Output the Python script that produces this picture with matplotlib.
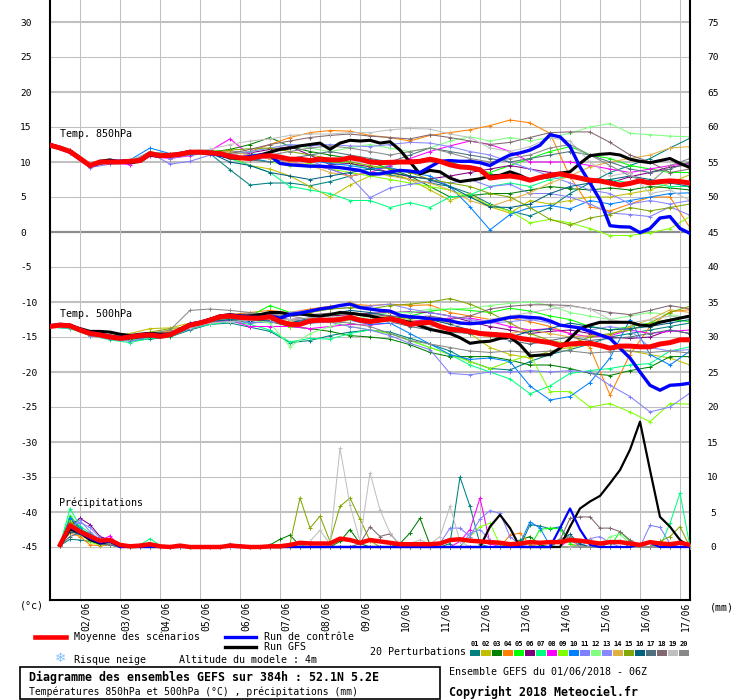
import numpy as np
import matplotlib
matplotlib.use("Agg")
import matplotlib.pyplot as plt
from matplotlib.lines import Line2D
from matplotlib.patches import Rectangle
import matplotlib.transforms as mtransforms

plt.rcParams['font.family'] = ['DejaVu Sans Mono', 'DejaVu Sans']
plt.rcParams['axes.unicode_minus'] = False

# echeances (heures depuis 01/06 06Z)
hours = np.arange(0, 385, 6)
hours12 = np.arange(0, 385, 12)
hours_rain = np.arange(6, 385, 6)

date_hours = np.arange(18, 384, 24)
dates = ['02/06', '03/06', '04/06', '05/06', '06/06', '07/06', '08/06', '09/06',
         '10/06', '11/06', '12/06', '13/06', '14/06', '15/06', '16/06', '17/06']

member_colors = ['#008080', '#c0c000', '#008000', '#ff8000', '#00ff00', '#800080',
                 '#00ff80', '#ff00ff', '#80ff00', '#0080ff', '#8080ff', '#80ff80',
                 '#8888ff', '#e0b040', '#80a800', '#006080', '#507080', '#806870',
                 '#c0c0c0', '#888888']

# ---- temperature 850 hPa ----
t850_mean = [12.4, 12.0, 11.5, 10.5, 9.5, 10.0, 10.0, 10.0, 10.1, 10.2,
             11.2, 10.9, 10.95, 11.1, 11.4, 11.4, 11.3, 11.2, 10.8, 10.6,
             10.5, 10.8, 10.9, 10.7, 10.4, 10.4, 10.2, 10.4, 10.3, 10.3,
             10.6, 10.4, 10.0, 9.9, 9.95, 10.0, 10.0, 10.1, 10.4, 10.1,
             9.6, 9.3, 9.2, 8.9, 7.7, 7.9, 8.0, 7.8, 7.4, 7.8,
             8.1, 8.3, 8.0, 7.7, 7.4, 7.3, 7.0, 6.7, 6.95, 7.3,
             7.0, 7.2, 7.3, 7.2, 7.0]
t850_ctrl = [12.5, 12.0, 11.4, 10.4, 9.4, 9.9, 10.1, 10.1, 10.2, 10.1,
             11.1, 10.8, 10.9, 11.2, 11.5, 11.4, 11.2, 11.0, 10.7, 10.6,
             10.8, 11.0, 10.9, 9.8, 9.6, 9.5, 9.4, 9.4, 9.3, 9.2,
             9.0, 8.8, 8.3, 8.3, 8.6, 8.8, 8.7, 8.5, 9.3, 10.1,
             10.2, 10.1, 10.1, 9.9, 9.5, 10.3, 11.0, 11.3, 11.7, 12.4,
             13.9, 13.6, 12.2, 9.3, 7.0, 4.6, 0.9, 0.75, 0.7, -0.1,
             0.5, 2.0, 2.2, 0.5, -0.2]
t850_gfs = [12.5, 12.1, 11.6, 10.6, 9.5, 10.1, 10.3, 10.0, 9.9, 10.1,
            11.0, 10.8, 10.9, 11.1, 11.5, 11.5, 11.3, 11.0, 10.6, 10.5,
            10.6, 11.0, 11.4, 11.8, 12.0, 12.3, 12.5, 12.7, 11.8, 12.7,
            13.1, 13.0, 13.1, 12.7, 12.9, 11.7, 10.0, 8.3, 8.8, 8.6,
            7.7, 7.2, 7.4, 7.6, 8.0, 8.1, 8.6, 8.1, 7.4, 7.7,
            7.9, 8.4, 8.6, 9.8, 10.9, 11.1, 11.2, 11.0, 10.4, 10.1,
            9.9, 10.2, 10.5, 9.8, 9.2]

# perturbations, pas de 12h
t850_p01 = [12.4, 11.5, 9.4, 10.0, 10.1, 11.0, 10.6, 11.0, 11.2, 8.9, 6.7, 7.0, 7.0, 6.6, 7.2, 8.0, 8.5,
            8.2, 7.5, 7.0, 6.5, 5.5, 4.0, 3.0, 2.3, 3.5, 5.5, 7.0, 8.5, 9.5, 10.5, 12.0, 13.4]
t850_p02 = [12.4, 11.5, 9.5, 10.1, 10.0, 11.0, 11.0, 11.3, 11.3, 10.8, 9.5, 9.0, 8.0, 6.5, 5.0, 6.7, 8.0,
            8.5, 7.5, 6.0, 4.5, 5.5, 3.6, 2.7, 4.5, 4.0, 4.5, 5.0, 5.0, 5.5, 6.0, 7.0, 8.2]
t850_p03 = [12.5, 11.6, 9.6, 10.1, 10.2, 11.3, 11.0, 11.3, 11.4, 11.8, 12.5, 13.5, 12.2, 11.5, 11.0, 10.5, 10.0,
            9.0, 8.0, 6.5, 5.0, 5.2, 5.5, 5.5, 6.0, 6.5, 6.2, 6.0, 6.3, 6.0, 6.5, 6.3, 6.0]
t850_p04 = [12.4, 11.5, 9.5, 10.1, 10.2, 11.1, 11.0, 11.5, 11.5, 11.0, 11.5, 12.5, 13.5, 14.2, 14.5, 14.4, 13.8,
            13.5, 13.0, 13.8, 14.2, 14.6, 15.2, 16.0, 15.6, 14.1, 7.9, 3.6, 3.0, 4.0, 5.0, 5.0, 0.6]
t850_p05 = [12.3, 11.4, 9.4, 10.0, 10.2, 11.2, 11.0, 11.4, 11.6, 11.5, 11.2, 10.8, 10.5, 10.2, 10.0, 9.8, 9.0,
            9.5, 10.2, 10.5, 10.0, 9.0, 8.5, 9.5, 10.5, 11.5, 12.2, 11.0, 10.5, 9.5, 9.0, 8.5, 8.5]
t850_p06 = [12.6, 11.7, 9.6, 10.0, 10.0, 11.2, 11.0, 11.3, 11.5, 11.5, 11.3, 11.8, 12.2, 11.0, 9.6, 9.8, 9.3,
            8.5, 7.9, 7.6, 8.0, 8.5, 9.0, 9.5, 9.0, 8.5, 8.0, 7.5, 7.0, 7.9, 8.5, 9.3, 9.6]
t850_p07 = [12.3, 11.4, 9.4, 10.0, 10.1, 11.0, 10.8, 11.0, 11.2, 10.5, 9.5, 8.5, 6.5, 6.0, 5.5, 4.5, 4.5,
            3.5, 4.2, 3.5, 5.0, 5.3, 6.5, 7.0, 6.5, 7.5, 8.0, 7.0, 7.5, 7.0, 7.0, 6.5, 6.5]
t850_p08 = [12.3, 11.5, 9.3, 10.0, 9.6, 10.8, 10.5, 10.9, 11.6, 13.3, 11.0, 10.5, 10.0, 9.5, 9.0, 8.0, 8.5,
            9.5, 10.5, 11.5, 12.3, 13.0, 12.5, 11.5, 10.0, 10.0, 10.0, 9.5, 9.0, 8.5, 9.0, 9.5, 9.8]
t850_p09 = [12.5, 11.6, 9.5, 10.1, 10.0, 11.5, 11.0, 11.3, 11.6, 11.0, 10.5, 10.0, 9.5, 9.8, 9.0, 8.5, 8.0,
            7.5, 7.0, 6.5, 6.0, 5.0, 3.8, 3.0, 1.3, 1.8, 1.3, 0.5, -0.5, -0.5, -0.1, 0.5, 2.2]
t850_p10 = [12.3, 11.4, 9.6, 10.2, 10.3, 12.0, 11.2, 11.0, 11.4, 11.0, 10.6, 10.0, 10.5, 10.2, 9.8, 9.5, 9.0,
            9.2, 8.5, 8.0, 6.5, 3.6, 0.3, 2.5, 3.5, 3.8, 3.3, 4.5, 4.0, 4.5, 5.0, 5.5, 5.6]
t850_p11 = [12.2, 11.3, 9.2, 9.7, 9.8, 11.3, 9.7, 10.1, 11.0, 11.6, 11.0, 10.5, 10.5, 10.2, 9.0, 7.9, 4.9,
            6.3, 6.8, 7.2, 7.0, 7.5, 6.5, 6.8, 5.5, 5.5, 5.0, 4.0, 2.7, 2.5, 2.2, 3.6, 2.4]
t850_p12 = [12.4, 11.5, 9.5, 10.1, 10.2, 11.1, 11.0, 11.4, 11.5, 11.3, 11.5, 12.0, 12.5, 12.0, 11.5, 12.0, 12.5,
            12.0, 11.5, 12.0, 13.0, 13.6, 13.0, 13.5, 13.0, 13.5, 14.1, 15.0, 15.5, 14.1, 13.9, 13.7, 13.6]
t850_p13 = [12.2, 11.3, 9.3, 10.0, 10.0, 11.5, 10.5, 11.0, 11.5, 11.0, 11.5, 12.0, 12.5, 12.3, 12.5, 12.3, 12.2,
            12.5, 12.8, 12.7, 12.2, 11.5, 11.0, 10.0, 9.0, 8.0, 7.0, 6.0, 5.5, 4.0, 4.5, 4.0, 4.5]
t850_p14 = [12.5, 11.6, 9.5, 10.1, 10.2, 11.0, 11.0, 11.2, 11.4, 11.5, 11.0, 10.5, 10.0, 9.5, 8.5, 8.0, 8.5,
            8.0, 7.5, 7.0, 6.0, 4.5, 3.6, 4.6, 5.6, 7.0, 8.0, 9.3, 10.0, 10.5, 11.0, 12.0, 12.2]
t850_p15 = [12.4, 11.5, 9.4, 10.0, 10.1, 11.2, 10.9, 11.2, 11.4, 11.7, 11.9, 12.0, 11.5, 11.0, 10.5, 10.0, 9.5,
            9.0, 8.5, 7.5, 7.0, 6.5, 5.5, 5.0, 3.5, 1.8, 1.0, 2.0, 2.5, 3.5, 3.0, 3.5, 4.0]
t850_p16 = [12.3, 11.4, 9.4, 10.1, 10.0, 11.0, 10.8, 11.2, 11.3, 10.0, 9.5, 8.5, 8.0, 7.5, 8.0, 8.5, 9.0,
            8.5, 8.0, 7.5, 6.5, 5.0, 3.6, 3.5, 4.0, 5.5, 6.5, 7.0, 7.5, 8.0, 7.5, 7.0, 6.5]
t850_p17 = [12.5, 11.6, 9.6, 10.2, 10.1, 11.4, 11.2, 11.6, 11.7, 10.8, 10.3, 10.0, 10.5, 11.0, 11.5, 11.0, 10.5,
            10.0, 11.0, 12.0, 11.5, 11.0, 10.5, 10.0, 10.5, 11.0, 11.5, 11.0, 10.0, 9.0, 8.5, 9.0, 10.0]
t850_p18 = [12.4, 11.5, 9.5, 10.0, 10.2, 11.1, 11.0, 11.4, 11.5, 11.2, 11.8, 12.5, 13.0, 13.5, 13.8, 14.0, 13.7,
            13.5, 13.3, 13.9, 13.5, 13.0, 12.5, 12.8, 13.5, 14.2, 14.3, 14.3, 12.8, 11.0, 10.0, 8.5, 9.0]
t850_p19 = [12.3, 11.5, 9.6, 10.2, 10.3, 11.3, 11.2, 11.6, 11.8, 12.5, 13.0, 13.3, 13.8, 14.0, 14.0, 14.2, 14.2,
            14.6, 14.8, 14.7, 14.0, 13.5, 12.0, 11.5, 12.2, 13.5, 13.0, 10.0, 8.0, 8.5, 5.5, 6.0, 4.5]
t850_p20 = [12.6, 11.7, 9.6, 10.0, 9.9, 11.3, 11.2, 11.5, 11.4, 10.5, 10.3, 11.0, 11.5, 12.0, 12.3, 12.0, 11.5,
            11.0, 11.5, 12.0, 11.3, 10.5, 10.0, 10.5, 11.0, 12.0, 12.5, 11.0, 9.5, 8.0, 7.0, 9.5, 10.5]

# ---- temperature 500 hPa ----
t500_mean = [-13.5, -13.3, -13.4, -14.0, -14.5, -14.7, -15.0, -15.2, -15.0, -14.8,
             -14.7, -14.9, -14.7, -14.0, -13.3, -13.0, -12.6, -12.1, -12.0, -12.2,
             -12.3, -12.3, -12.1, -12.8, -13.2, -13.2, -12.7, -12.6, -12.6, -12.5,
             -12.2, -12.6, -12.8, -12.6, -12.4, -12.7, -13.2, -13.0, -12.9, -13.5,
             -13.9, -14.0, -14.2, -14.5, -14.6, -14.7, -14.8, -15.2, -15.4, -15.6,
             -15.8, -16.2, -16.0, -15.9, -15.9, -16.2, -16.6, -16.3, -16.3, -16.4,
             -16.4, -16.0, -15.8, -15.4, -15.4]
t500_ctrl = [-13.4, -13.2, -13.3, -13.9, -14.4, -14.6, -14.9, -15.1, -14.9, -14.7,
             -14.6, -14.8, -14.6, -13.9, -13.2, -12.9, -12.5, -12.0, -11.9, -12.0,
             -12.2, -12.2, -12.0, -12.3, -11.8, -11.6, -11.3, -11.0, -10.8, -10.5,
             -10.3, -10.8, -11.0, -11.2, -11.3, -11.9, -12.1, -12.2, -12.4, -12.5,
             -12.7, -13.0, -13.1, -13.0, -12.8, -12.5, -12.2, -12.1, -12.2, -12.3,
             -12.7, -13.3, -13.5, -13.7, -14.2, -14.7, -15.2, -16.6, -18.0, -20.0,
             -21.9, -22.6, -21.9, -21.8, -21.6]
t500_gfs = [-13.5, -13.3, -13.4, -13.8, -14.2, -14.2, -14.3, -14.6, -14.8, -14.6,
            -14.5, -14.6, -14.6, -14.0, -13.3, -13.0, -12.5, -12.0, -11.8, -12.0,
            -12.0, -11.8, -11.5, -11.5, -11.8, -11.7, -11.9, -12.0, -11.8, -11.5,
            -11.6, -11.8, -12.0, -12.3, -12.4, -12.6, -12.9, -13.4, -13.9, -14.2,
            -14.5, -15.1, -15.9, -15.7, -15.6, -15.2, -15.0, -16.1, -17.7, -17.6,
            -17.5, -16.6, -15.2, -13.8, -13.3, -12.9, -12.9, -12.9, -12.9, -13.3,
            -13.4, -12.9, -12.6, -12.3, -12.0]

t500_p01 = [-13.6, -13.7, -14.7, -15.2, -15.5, -15.3, -15.0, -14.0, -13.2, -13.0, -13.6, -14.2, -15.8, -15.5, -14.8,
            -14.3, -14.0, -14.3, -15.2, -16.0, -17.0, -18.5, -19.5, -19.7, -18.5, -17.5, -16.8, -16.0, -15.0, -14.5,
            -14.0, -13.5, -13.0]
t500_p02 = [-13.5, -13.6, -14.5, -14.8, -14.5, -13.8, -13.7, -13.0, -12.5, -12.2, -12.6, -12.5, -12.8, -13.0, -12.5,
            -12.0, -12.5, -12.0, -12.5, -13.0, -14.0, -14.5, -16.5, -17.5, -18.0, -17.0, -16.5, -16.0, -16.5, -17.0,
            -17.5, -18.0, -19.0]
t500_p03 = [-13.6, -13.7, -14.6, -15.1, -15.3, -14.9, -14.7, -13.8, -13.0, -12.5, -13.0, -12.8, -13.5, -13.8, -14.2,
            -14.8, -15.0, -15.3, -16.1, -17.2, -17.8, -17.8, -17.8, -18.3, -19.0, -19.0, -19.5, -20.2, -20.5, -19.8,
            -19.3, -17.8, -17.8]
t500_p04 = [-13.3, -13.4, -14.3, -14.8, -14.9, -14.5, -14.2, -13.2, -12.3, -11.8, -11.5, -11.2, -11.5, -11.0, -10.6,
            -10.3, -10.5, -10.3, -10.5, -10.4, -11.5, -12.0, -12.5, -12.3, -12.8, -13.5, -14.5, -16.5, -23.3, -17.5,
            -13.5, -11.4, -11.1]
t500_p05 = [-13.4, -13.5, -14.5, -15.0, -14.9, -14.5, -14.5, -13.5, -12.6, -12.0, -12.0, -10.5, -11.5, -12.0, -12.0,
            -11.5, -12.0, -12.5, -12.0, -11.3, -11.0, -11.2, -11.5, -10.9, -11.3, -12.0, -12.5, -13.5, -14.0, -13.5,
            -13.0, -12.5, -12.8]
t500_p06 = [-13.4, -13.5, -14.5, -15.0, -15.3, -14.6, -14.5, -13.5, -12.8, -12.3, -12.3, -12.1, -12.5, -12.3, -12.0,
            -11.8, -11.6, -11.5, -11.4, -11.5, -12.0, -12.8, -13.5, -14.0, -14.5, -14.2, -14.0, -14.5, -15.0, -15.2,
            -15.0, -14.0, -14.5]
t500_p07 = [-13.6, -13.8, -14.8, -15.4, -15.8, -15.2, -15.0, -13.8, -13.2, -12.8, -13.2, -14.0, -15.7, -15.2, -15.3,
            -14.5, -14.0, -14.5, -15.5, -16.5, -17.5, -19.0, -20.0, -21.0, -23.1, -22.0, -20.2, -19.8, -19.5, -19.0,
            -18.8, -17.0, -16.4]
t500_p08 = [-13.5, -13.5, -14.6, -15.0, -15.2, -14.8, -14.7, -13.6, -13.0, -12.6, -13.5, -13.5, -13.5, -13.8, -13.5,
            -13.2, -13.3, -13.0, -12.8, -12.5, -12.3, -12.3, -12.8, -13.5, -14.0, -13.8, -14.5, -15.0, -14.8, -14.0,
            -14.5, -14.2, -14.0]
t500_p09 = [-13.5, -13.6, -14.8, -15.3, -15.5, -15.0, -14.8, -13.6, -12.8, -12.3, -12.5, -12.0, -13.5, -13.0, -12.8,
            -13.5, -14.0, -14.5, -15.5, -16.5, -17.5, -18.5, -19.5, -18.5, -17.5, -22.8, -22.8, -25.0, -24.5, -25.7,
            -27.1, -24.5, -24.6]
t500_p10 = [-13.4, -13.5, -14.5, -15.2, -15.3, -14.8, -14.5, -13.0, -12.5, -12.3, -12.8, -12.2, -13.0, -12.5, -12.3,
            -12.6, -13.2, -13.0, -14.5, -16.0, -17.5, -18.2, -18.0, -18.5, -22.0, -24.0, -23.5, -21.5, -18.0, -12.5,
            -17.5, -19.0, -17.0]
t500_p11 = [-13.6, -13.7, -14.8, -15.3, -15.6, -15.0, -14.9, -13.8, -13.0, -12.7, -13.0, -12.8, -13.3, -13.0, -12.9,
            -13.5, -14.0, -14.8, -15.9, -16.8, -20.2, -20.4, -20.0, -20.0, -19.8, -20.0, -19.8, -20.0, -21.9, -23.5,
            -25.7, -25.0, -23.0]
t500_p12 = [-13.5, -13.5, -14.5, -15.0, -15.0, -14.6, -14.5, -13.5, -12.8, -12.3, -12.5, -13.0, -16.4, -14.5, -13.5,
            -12.5, -12.0, -11.5, -11.5, -11.0, -11.0, -10.9, -10.5, -10.2, -10.0, -10.5, -11.5, -12.0, -12.5, -12.0,
            -11.5, -11.8, -12.3]
t500_p13 = [-13.3, -13.4, -14.4, -14.9, -15.0, -14.6, -14.4, -13.3, -12.5, -12.0, -11.8, -11.6, -11.5, -11.2, -11.0,
            -10.8, -10.6, -10.3, -11.0, -11.5, -12.0, -12.5, -13.0, -12.8, -12.5, -13.0, -13.5, -14.0, -13.5, -14.0,
            -16.5, -17.0, -16.8]
t500_p14 = [-13.4, -13.5, -14.4, -14.9, -15.0, -14.4, -14.3, -13.4, -12.6, -12.1, -12.0, -11.8, -12.0, -11.5, -11.0,
            -10.0, -11.0, -11.5, -12.0, -12.5, -13.0, -14.5, -15.0, -14.5, -14.0, -14.5, -15.0, -14.8, -14.7, -13.5,
            -12.5, -11.1, -11.5]
t500_p15 = [-13.4, -13.5, -14.5, -15.0, -14.8, -14.3, -13.8, -13.5, -12.5, -12.2, -12.3, -12.3, -12.0, -11.5, -11.0,
            -10.8, -11.0, -10.5, -10.3, -10.0, -9.5, -10.3, -11.5, -13.0, -14.5, -15.5, -16.0, -15.0, -14.5, -14.0,
            -13.0, -11.5, -10.6]
t500_p16 = [-13.5, -13.6, -14.6, -15.1, -15.3, -15.0, -14.8, -13.7, -12.8, -12.5, -12.7, -12.6, -13.0, -12.3, -11.8,
            -11.2, -11.5, -12.0, -12.3, -12.5, -13.2, -14.0, -14.5, -15.0, -14.2, -13.8, -13.0, -13.5, -14.0, -13.8,
            -13.5, -13.0, -12.5]
t500_p17 = [-13.4, -13.5, -14.5, -15.0, -15.2, -14.7, -14.6, -13.5, -12.7, -12.3, -12.2, -12.5, -12.5, -12.8, -12.5,
            -12.3, -12.5, -12.8, -13.5, -14.0, -14.3, -14.5, -14.8, -15.5, -16.0, -15.5, -15.0, -15.5, -15.2, -15.0,
            -14.5, -14.0, -14.5]
t500_p18 = [-13.4, -13.4, -14.4, -14.8, -14.9, -14.5, -14.4, -13.4, -12.5, -11.8, -11.7, -11.8, -12.0, -11.8, -11.6,
            -11.5, -11.8, -12.0, -12.2, -12.0, -12.5, -12.0, -11.0, -10.6, -10.4, -10.4, -10.5, -11.0, -11.5, -11.8,
            -11.2, -10.5, -11.0]
t500_p19 = [-13.5, -13.6, -14.6, -15.0, -15.2, -14.6, -14.5, -13.7, -13.0, -12.8, -12.6, -12.4, -12.5, -12.3, -12.0,
            -12.2, -12.5, -12.8, -13.0, -13.5, -13.5, -13.0, -12.5, -12.0, -11.5, -11.0, -10.6, -11.0, -12.5, -13.0,
            -12.5, -12.0, -12.3]
t500_p20 = [-13.3, -13.3, -14.3, -14.7, -14.9, -14.5, -14.0, -11.2, -11.0, -11.2, -11.5, -11.8, -12.0, -12.5, -12.8,
            -13.0, -13.5, -14.5, -15.5, -16.0, -16.5, -17.0, -17.2, -17.0, -17.2, -17.0, -17.0, -17.3, -17.1, -17.0,
            -17.2, -17.0, -17.3]

# ---- precipitations (mm / 6h) ----
rain_mean = [0.3, 3.1, 2.2, 1.5, 0.9, 1.0, 0.3, 0.1,
             0.2, 0.4, 0.1, 0, 0.2, 0, 0, 0,
             0, 0.2, 0.1, 0, 0, 0.1, 0.1, 0.3,
             0.6, 0.5, 0.5, 0.5, 1.2, 1.0, 0.6, 1.0,
             0.8, 0.6, 0.4, 0.4, 0.4, 0.4, 0.5, 1.0,
             1.1, 0.9, 0.8, 0.7, 0.6, 0.4, 0.5, 0.7,
             0.6, 0.7, 0.7, 1.0, 0.9, 0.7, 0.5, 0.7,
             0.7, 0.5, 0.3, 0.7, 0.5, 0.4, 0.6, 0.3]
rain_ctrl = [0.2, 2.8, 2.0, 1.2, 0.6, 0.8, 0, 0,
             0, 0, 0, 0, 0, 0, 0, 0,
             0, 0, 0, 0, 0, 0, 0, 0,
             0, 0, 0, 0, 0, 0, 0, 0,
             0, 0, 0, 0, 0, 0, 0, 0,
             0, 0, 0, 0, 0, 0, 0, 0,
             0, 0, 2.7, 5.5, 2.5, 0.3, 0, 0,
             0, 0, 0.4, 0.6, 0, 0, 0, 0]
rain_gfs = [0.2, 2.5, 2.0, 1.0, 0.5, 0.8, 0, 0,
            0, 0, 0, 0, 0, 0, 0, 0,
            0, 0.2, 0.2, 0, 0, 0, 0, 0,
            0, 0, 0, 0, 0, 0, 0, 0,
            0, 0, 0, 0, 0, 0, 0, 0,
            0, 0, 0, 2.9, 4.6, 2.7, 0, 0,
            0, 0, 0, 2.9, 5.5, 6.5, 7.3, 9.1,
            11.0, 13.9, 17.9, 11.0, 4.3, 2.9, 1.0, 0]

rain_p01 = [0.2, 1.1, 1.0, 0.8, 0.4, 0.3, 0, 0,   0, 0, 0, 0, 0, 0, 0, 0,   0, 0, 0, 0, 0, 0, 0, 0,
            0, 0, 0, 0, 0, 0, 0, 0,   0, 0, 0, 0, 0, 0, 0, 0.5,   10.0, 5.8, 0.4, 0, 0, 0, 0, 3.2,
            3.0, 2.6, 2.9, 0.8, 0.5, 0, 0, 0,   0, 0, 0, 0, 0.8, 0, 0, 0]
rain_p02 = [0.3, 3.5, 2.5, 1.5, 0.8, 0.6, 0, 0,   0, 0, 0, 0, 0, 0, 0, 0,   0, 0, 0, 0, 0, 0, 0, 0,
            0, 0, 0, 0, 0, 0, 0, 0,   0, 0, 0, 0, 0, 0, 0, 0,   0, 0, 0, 0, 0, 0, 0, 0,
            0, 0, 0, 0, 0, 0, 0, 0,   0, 0, 0, 0, 0, 0, 0.5, 0]
rain_p03 = [0.2, 4.0, 2.5, 1.8, 0.9, 0.8, 0, 0,   0, 0, 0, 0, 0, 0, 0, 0,   0, 0, 0, 0, 0, 0.3, 1.1, 1.7,
            0.2, 0, 0, 0, 0.8, 2.5, 0.5, 0,   0, 0, 0.5, 2.0, 4.1, 0.3, 0, 0,   0, 0, 0, 0, 0, 0, 1.0, 1.5,
            0.3, 0, 0, 0, 0, 0, 0, 0,   0, 0, 0, 0, 0, 0, 0, 0]
rain_p04 = [0.2, 2.0, 1.5, 0.3, 0.2, 0.3, 0, 0,   0, 0, 0, 0, 0, 0, 0, 0,   0, 0, 0, 0, 0, 0, 0, 0,
            0, 0, 0, 0, 0, 0, 0, 0,   0, 0, 0, 0, 0, 0, 0, 0,   0, 0, 0, 0, 0, 1.7, 2.0, 0.3,
            0, 0, 0, 0, 0, 0, 0, 0,   0, 0, 0, 0, 0, 0, 0, 0]
rain_p05 = [0.2, 4.5, 2.8, 1.5, 1.0, 1.2, 0, 0,   0, 0.5, 0, 0, 0, 0, 0, 0,   0, 0, 0, 0, 0, 0, 0, 0,
            0, 0, 0, 0, 0, 0, 0, 0,   0, 0, 0, 0, 0, 0, 0, 0,   0, 0, 0, 0, 0, 0, 0, 0,
            2.5, 2.7, 2.6, 0.5, 0, 0, 0, 0,   2.2, 0.8, 0, 0, 0, 0, 0, 0]
rain_p06 = [0.3, 3.0, 4.1, 3.2, 1.5, 1.0, 0, 0,   0, 0, 0, 0, 0, 0, 0, 0,   0, 0, 0, 0, 0, 0, 0, 0,
            0, 0, 0, 0, 0, 0, 0, 0,   0, 0, 0, 0, 0, 0, 0, 0,   0, 0, 0, 0, 0, 0, 0, 0,
            0, 0, 0, 0, 0, 0, 0, 0,   0, 0, 0, 0, 0, 0, 0, 0]
rain_p07 = [0.3, 5.5, 3.0, 2.0, 1.0, 1.2, 0, 0,   0.3, 1.2, 0.2, 0, 0, 0, 0, 0,   0, 0, 0, 0, 0, 0, 0, 0,
            0, 0, 0, 0, 0, 0, 0, 0,   0, 0, 0, 0, 0, 0, 0, 0,   0, 0, 0, 0, 0, 0, 0, 0,
            0, 0, 0, 0, 0, 0, 0, 0,   0, 0, 0, 0, 0, 3.4, 7.7, 0]
rain_p08 = [0.2, 3.2, 2.5, 1.8, 0.9, 1.6, 0, 0,   0, 0, 0, 0, 0, 0, 0, 0,   0, 0, 0, 0, 0, 0, 0, 0,
            0, 0, 0, 0, 0, 0, 0, 0,   0, 0, 0, 0, 0, 0, 0, 0,   0.8, 2.5, 7.0, 0.5, 0, 0, 0, 0,
            0, 0, 0, 1.2, 0, 0, 0, 0,   0, 0, 0, 0, 0, 0, 0, 0]
rain_p09 = [0.2, 3.8, 2.0, 0.7, 0.3, 0.5, 0, 0,   0, 0, 0, 0, 0, 0, 0, 0,   0, 0, 0, 0, 0, 0, 0, 0,
            0, 0, 0, 0, 0, 0, 0, 0,   0, 0, 0, 0, 0, 0, 0, 0,   0, 1.5, 2.9, 3.4, 0.3, 0, 0, 0,
            0, 0, 0, 0, 0, 0, 0, 0,   0, 0, 0, 0, 0, 0, 0, 0]
rain_p10 = [0.3, 4.2, 2.7, 1.6, 0.6, 0.9, 0, 0,   0, 0, 0, 0, 0, 0, 0, 0,   0, 0, 0, 0, 0, 0, 0, 0,
            0, 0, 0, 0, 0, 0, 0, 0,   0, 0, 0, 0, 0, 0, 0, 0,   0, 0, 0, 0, 0, 0, 0.5, 3.6,
            2.7, 0.2, 0, 0, 0, 0, 0, 0,   0, 0, 0, 0, 0, 0, 0, 0]
rain_p11 = [0.2, 3.0, 3.5, 2.8, 1.3, 0.8, 0, 0,   0, 0, 0, 0, 0, 0, 0, 0,   0, 0, 0, 0, 0, 0, 0, 0,
            0, 0, 0, 0, 0, 0, 0, 0,   0, 0, 0, 0, 0, 0, 0.5, 2.7,   2.7, 1.5, 4.0, 5.2, 4.8, 1.5, 0.3, 0,
            0, 0, 0, 0, 0, 0, 0, 0,   0, 0, 0, 3.1, 2.8, 0.5, 0, 0]
rain_p12 = [0.2, 3.3, 2.2, 1.3, 0.5, 0.7, 0, 0,   0, 0, 0, 0, 0, 0, 0, 0,   0, 0, 0, 0, 0, 0, 0, 0,
            0, 0, 0, 0, 0, 0, 0, 0,   0, 0, 0, 0, 0, 0, 0, 0,   0, 0, 0, 0, 0, 0, 0, 0,
            0, 0, 0, 0, 0, 0, 0, 1.5,   1.8, 0.5, 0, 0, 0, 0, 0, 0]
rain_p13 = [0.3, 2.8, 3.8, 2.2, 1.0, 0.9, 0, 0,   0, 0, 0, 0, 0, 0, 0, 0,   0, 0, 0, 0, 0, 0, 0, 0,
            0, 0, 0, 0, 0, 0, 0, 0,   0, 0, 0, 0, 0, 0, 0, 0,   0, 2.0, 2.5, 1.0, 0, 0, 0, 0,
            0, 0, 0, 0, 0, 1.2, 1.5, 0.6,   0, 0, 0, 0, 0, 0, 0, 0]
rain_p14 = [0.2, 2.5, 1.6, 1.0, 0.5, 0.4, 0, 0,   0, 0, 0, 0, 0, 0, 0, 0,   0, 0, 0, 0, 0, 0, 0, 0,
            0, 0, 0, 0, 0, 0, 0, 0,   0, 0, 0, 0, 0, 0, 0, 0,   0, 0, 0, 0, 0, 0, 0, 0,
            0, 0, 0, 0, 0.8, 1.0, 0, 0,   0, 0, 0, 0, 0, 0, 0, 0]
rain_p15 = [0.2, 3.6, 2.4, 1.2, 0.6, 0.5, 0, 0,   0, 0, 0, 0, 0, 0, 0, 0,   0, 0, 0, 0, 0, 0, 0, 0.5,
            7.0, 2.7, 4.4, 0.8, 5.8, 7.0, 4.0, 0.9,   0, 0, 0, 0, 0, 0, 0, 0,   0, 0, 0, 0, 0, 0, 0, 0,
            0, 0, 0, 0, 0, 0, 0, 0,   0, 0, 0, 0, 0.8, 1.5, 2.9, 0]
rain_p16 = [0.2, 2.2, 1.8, 1.4, 0.6, 0.4, 0, 0,   0, 0, 0, 0, 0, 0, 0, 0,   0, 0, 0, 0, 0, 0, 0, 0,
            0, 0, 0, 0, 0, 0, 0, 0,   0, 0, 0, 0, 0, 0, 0, 0,   0, 0, 0, 0, 0, 0, 0, 0,
            0, 0, 1.0, 1.8, 0.4, 0, 0, 0,   0, 0, 0, 0, 0, 0, 0, 0]
rain_p17 = [0.2, 1.5, 2.0, 1.0, 0.4, 0.3, 0, 0,   0, 0, 0, 0, 0, 0, 0, 0,   0, 0, 0, 0, 0, 0, 0, 0,
            0, 0, 0, 0, 0, 0, 0, 0,   0, 0, 0, 0, 0, 0, 0, 0,   0, 0, 0, 0, 0, 0.5, 0, 0,
            0, 0, 0, 0, 0, 0, 0, 0.6,   0.8, 0, 0, 0, 0, 0, 0, 0]
rain_p18 = [0.2, 2.8, 2.5, 1.9, 0.8, 0.5, 0, 0,   0, 0, 0, 0, 0, 0, 0, 0,   0, 0, 0, 0, 0, 0, 0, 0,
            0, 0, 0, 0, 0, 0, 0.5, 2.9,   1.5, 1.9, 0.3, 0, 0, 0, 0, 0,   0, 0, 0, 0, 0, 0, 0, 0,
            0, 0, 1.0, 4.1, 4.3, 4.3, 2.7, 2.7,   2.2, 1.0, 0.3, 0, 0, 0, 0.6, 0.3]
rain_p19 = [0.2, 3.0, 2.0, 1.2, 0.7, 0.6, 0, 0,   0, 0, 0, 0, 0, 0, 0, 0,   0, 0, 0, 0, 0, 0, 0, 0,
            0.3, 0.8, 2.4, 0.4, 14.1, 6.0, 0.8, 10.6,   5.3, 2.0, 0.3, 0.5, 1.0, 0.4, 1.5, 5.8,
            0.8, 0, 0, 0, 0, 0, 0, 0,   0, 0, 0, 0, 0, 0, 0, 0,   0, 0, 0, 0, 0, 0, 0, 0]
rain_p20 = [0.2, 2.6, 2.3, 1.6, 0.7, 0.5, 0, 0,   0, 0, 0, 0, 0, 0, 0, 0,   0, 0.5, 0.2, 0, 0, 0, 0, 0,
            0, 0, 0, 0, 0, 0, 0, 0,   0, 0, 0, 0, 0, 0, 0, 0,   0, 0, 0, 0, 0, 0, 0, 0,
            0, 0, 1.2, 1.5, 0, 0, 0, 0,   0, 0, 0, 0, 0, 0, 0, 0]

t850_members = [t850_p01, t850_p02, t850_p03, t850_p04, t850_p05, t850_p06, t850_p07, t850_p08, t850_p09, t850_p10,
                t850_p11, t850_p12, t850_p13, t850_p14, t850_p15, t850_p16, t850_p17, t850_p18, t850_p19, t850_p20]
t500_members = [t500_p01, t500_p02, t500_p03, t500_p04, t500_p05, t500_p06, t500_p07, t500_p08, t500_p09, t500_p10,
                t500_p11, t500_p12, t500_p13, t500_p14, t500_p15, t500_p16, t500_p17, t500_p18, t500_p19, t500_p20]
rain_members = [rain_p01, rain_p02, rain_p03, rain_p04, rain_p05, rain_p06, rain_p07, rain_p08, rain_p09, rain_p10,
                rain_p11, rain_p12, rain_p13, rain_p14, rain_p15, rain_p16, rain_p17, rain_p18, rain_p19, rain_p20]

W, H = 740, 700
fig = plt.figure(figsize=(W / 100, H / 100), dpi=100)
fig.patch.set_facecolor('white')


def fx(px):
    return px / W


def fy(py):
    return 1 - py / H


ax = fig.add_axes([fx(50), fy(600), fx(690) - fx(50), fy(0) - fy(600)])
ax.set_xlim(0, 384)
ymin, ymax = -45 - 53 / 7, 30 + 22 / 7
ax.set_ylim(ymin, ymax)

# grille
for v in range(-45, 31, 5):
    if v == 0:
        ax.axhline(v, color='#8c8c8c', lw=1.6, zorder=0.5)
    else:
        ax.axhline(v, color='#c0c0c0', lw=1.5 if v % 10 == 0 else 0.75, zorder=0.5)
for h in date_hours:
    ax.axvline(h, color='#c0c0c0', lw=0.75, zorder=0.5)

# perturbations
for vals, col in zip(t850_members, member_colors):
    ax.plot(hours12, vals, color=col, lw=0.75, marker='+', ms=3, mew=0.7, zorder=2)
for vals, col in zip(t500_members, member_colors):
    ax.plot(hours12, vals, color=col, lw=0.75, marker='+', ms=3, mew=0.7, zorder=2)

ax.plot(hours, t850_gfs, color='black', lw=2.2, zorder=3)
ax.plot(hours, t500_gfs, color='black', lw=2.2, zorder=3)
ax.plot(hours, t850_ctrl, color='#0000ff', lw=2.4, zorder=4)
ax.plot(hours, t500_ctrl, color='#0000ff', lw=2.4, zorder=4)
ax.plot(hours, t850_mean, color='#ff0000', lw=3.6, zorder=5)
ax.plot(hours, t500_mean, color='#ff0000', lw=3.6, zorder=5)

# axe des precipitations (0 mm = -45)
ax2 = ax.twinx()
ax2.set_ylim(ymin + 45, ymax + 45)
for vals, col in zip(rain_members, member_colors):
    ax2.plot(hours_rain, vals, color=col, lw=0.75, marker='+', ms=3, mew=0.7, zorder=2)
ax2.plot(hours_rain, rain_gfs, color='black', lw=1.6, zorder=3)
ax2.plot(hours_rain, rain_ctrl, color='#0000ff', lw=1.6, zorder=4)
ax2.plot(hours_rain, rain_mean, color='#ff0000', lw=3.2, zorder=5)

# axes
for a in (ax, ax2):
    for s in a.spines.values():
        s.set_visible(False)
for side in ('left', 'right', 'bottom'):
    ax.spines[side].set_visible(True)
    ax.spines[side].set_color('black')
    ax.spines[side].set_linewidth(1.5)

ax.set_yticks(range(-45, 31, 5))
ax.tick_params(axis='y', length=0, pad=21.6, labelsize=6.8)
for lab in ax.get_yticklabels():
    lab.set_horizontalalignment('left')
ax2.set_yticks(range(0, 76, 5))
ax2.tick_params(axis='y', length=0, pad=16.6, labelsize=6.8)
for lab in ax2.get_yticklabels():
    lab.set_horizontalalignment('center')

ax.set_xticks(date_hours, dates, rotation=90)
ax.tick_params(axis='x', length=0, pad=1, labelsize=7)
shift = mtransforms.ScaledTranslation(6 / 100, 0, fig.dpi_scale_trans)
for lab in ax.get_xticklabels():
    lab.set_transform(lab.get_transform() + shift)

# textes dans le graphique
fs = 7.2
fig.text(fx(60), fy(134), 'Temp. 850hPa', fontsize=fs, va='center')
fig.text(fx(60), fy(314), 'Temp. 500hPa', fontsize=fs, va='center')
fig.text(fx(59), fy(503), 'Précipitations', fontsize=fs, va='center')
fig.text(fx(20), fy(606), '(°c)', fontsize=fs, va='center')
fig.text(fx(710), fy(607), '(mm)', fontsize=fs, va='center')

# legende
fig.add_artist(Line2D([fx(35), fx(66)], [fy(637), fy(637)], color='#ff0000', lw=3.3))
fig.text(fx(74), fy(637), 'Moyenne des scénarios', fontsize=fs, va='center')
fig.add_artist(Line2D([fx(225), fx(256)], [fy(637), fy(637)], color='#0000ff', lw=2.4))
fig.text(fx(264), fy(637), 'Run de contrôle', fontsize=fs, va='center')
fig.add_artist(Line2D([fx(225), fx(256)], [fy(647), fy(647)], color='black', lw=2.4))
fig.text(fx(264), fy(647), 'Run GFS', fontsize=fs, va='center')
fig.text(fx(60), fy(658), '❄', fontsize=9.5, color='#80c0ff', ha='center', va='center',
         family='DejaVu Sans')
fig.text(fx(74), fy(660), 'Risque neige', fontsize=fs, va='center')
fig.text(fx(179), fy(660), 'Altitude du modele : 4m', fontsize=fs, va='center')

fig.text(fx(370), fy(652), '20 Perturbations', fontsize=fs, va='center')
for i, col in enumerate(member_colors):
    x0 = 470 + 11 * i
    fig.patches.append(Rectangle((fx(x0), fy(656)), 10 / W, 6 / H, transform=fig.transFigure,
                                 facecolor=col, edgecolor='none'))
    fig.text(fx(x0 + 5), fy(644), f'{i + 1:02d}', fontsize=5, fontweight='bold',
             ha='center', va='center')

fig.patches.append(Rectangle((fx(20), fy(699)), 420 / W, 32 / H, transform=fig.transFigure,
                             fill=False, edgecolor='black', lw=1.2))
fig.text(fx(29), fy(677), 'Diagramme des ensembles GEFS sur 384h : 52.1N 5.2E', fontsize=8.4,
         fontweight='bold', va='center')
fig.text(fx(29), fy(692), 'Températures 850hPa et 500hPa (°C) , précipitations (mm)', fontsize=7.0,
         va='center')
fig.text(fx(449), fy(672), 'Ensemble GEFS du 01/06/2018 - 06Z', fontsize=fs, va='center')
fig.text(fx(449), fy(692), 'Copyright 2018 Meteociel.fr', fontsize=8.4, fontweight='bold', va='center')

fig.savefig('out.png', dpi=100, facecolor='white')
